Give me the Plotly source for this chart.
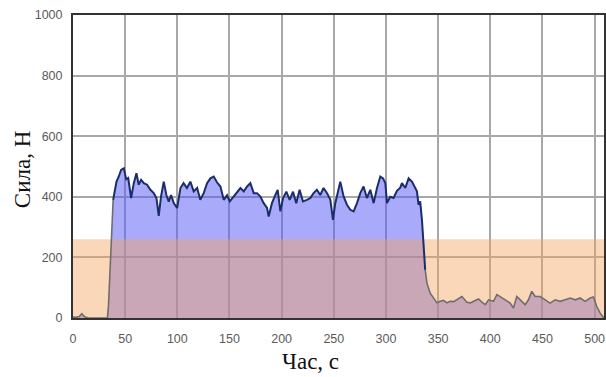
import plotly.graph_objects as go

# ---- data ----
time_s = [0, 3, 6, 8.5, 11, 14, 20, 27, 33, 34, 35.5, 37, 38.5, 41.7, 43.9, 46.1, 48.7, 51, 52.9, 55.7,
          58.3, 60.8, 63, 65.3, 67.9, 71, 74.2, 77.4, 80, 82.2, 84.4, 87, 89.5, 91.8, 94, 96.6, 99.8,
          103, 106, 109.2, 112.5, 115.7, 119, 122, 125.3, 128.5, 131.7, 134.9, 138, 141.3, 144.5,
          147.7, 150.3, 154.2, 157.3, 160.5, 163.7, 166.9, 170, 173.2, 176.4, 179.6, 182.8, 186,
          187.6, 190.7, 194, 196.2, 198.8, 201.4, 204.5, 207.7, 210.9, 214, 217.2, 220.4, 224.3,
          227.5, 230.6, 233.8, 237, 240.2, 243.5, 246.7, 249.2, 251.4, 254, 256.2, 259.4, 262.6,
          265.8, 269, 272.2, 275.4, 278.5, 281.7, 285, 288.2, 291.4, 294.6, 297.2, 299.4, 301, 304,
          307.3, 310.5, 313.7, 315.3, 318.5, 321.7, 324.9, 328, 329.7, 331.2, 332.8, 334.5, 336,
          337.6, 339.3, 342.4, 345.6, 348.8, 352, 355.2, 358.4, 361.6, 364.8, 368, 372.8, 377.6,
          381, 384, 388.8, 392, 395.2, 398.3, 403.1, 406.3, 409.5, 414.3, 419, 422.2, 425.4, 428.6,
          433.4, 436.6, 439.8, 443, 447.8, 452.6, 457.4, 462.2, 467, 471.8, 476.6, 481.4, 486.1,
          490.9, 495.7, 498.9, 502.1, 505.3, 509]
force_n = [3, 2, 5, 14, 4, 1, 0, 0, 0, 40, 170, 320, 390, 450, 467, 489, 494, 458, 462, 396,
           445, 478, 440, 456, 445, 440, 423, 412, 396, 337, 401, 450, 406, 384, 406, 379, 363,
           429, 445, 429, 450, 418, 429, 390, 412, 445, 461, 467, 448, 434, 390,
           405, 385, 401, 412, 429, 418, 434, 445, 412, 412, 401, 379, 363,
           335, 379, 406, 423, 352, 396, 417, 390, 417, 379, 423, 385, 390,
           396, 412, 423, 406, 429, 412, 390, 324, 379, 417, 450, 401, 374,
           357, 352, 379, 412, 434, 396, 423, 379, 429, 467, 461, 445, 379, 400,
           396, 420, 430, 445, 429, 461, 450, 429, 418, 374, 385, 324, 250,
           159, 115, 82, 65, 50, 55, 58, 50, 55, 54, 60, 71, 52,
           50, 55, 63, 52, 44, 60, 55, 77, 71, 60, 49, 33, 71, 60,
           44, 60, 88, 71, 71, 60, 49, 60, 55, 60, 66, 60, 66,
           55, 66, 69, 38, 16, 0]

load_start_s = 38.5    # navy line begins
load_end_s = 338       # navy line ends
threshold_n = 260      # orange band top
x_max = 509
y_ticks = [0, 200, 400, 600, 800, 1000]
x_ticks = [0, 50, 100, 150, 200, 250, 300, 350, 400, 450, 500]

navy_idx = [i for i, t in enumerate(time_s) if load_start_s <= t <= load_end_s]
i0, i1 = navy_idx[0], navy_idx[-1]

fig = go.Figure()
# blue fill
fig.add_trace(go.Scatter(x=time_s, y=force_n, mode="lines", line=dict(width=0),
                         fill="tozeroy", fillcolor="rgba(85,85,245,0.5)", hoverinfo="skip",
                         showlegend=False))
# orange band (drawn above the fill)
fig.add_trace(go.Scatter(x=[0, x_max, x_max, 0], y=[0, 0, threshold_n, threshold_n],
                         mode="lines", line=dict(width=0), fill="toself",
                         fillcolor="rgba(243,164,96,0.44)", hoverinfo="skip", showlegend=False))
# gray segments
fig.add_trace(go.Scatter(x=time_s[:i0 + 1], y=force_n[:i0 + 1], mode="lines",
                         line=dict(color="#6e6e6e", width=1.6), showlegend=False))
fig.add_trace(go.Scatter(x=time_s[i1:], y=force_n[i1:], mode="lines",
                         line=dict(color="#6e6e6e", width=1.6), showlegend=False))
# navy segment
fig.add_trace(go.Scatter(x=time_s[i0:i1 + 1], y=force_n[i0:i1 + 1], mode="lines",
                         line=dict(color="#1b2d6b", width=2), showlegend=False))

tick_font = dict(family="Liberation Sans, Arial", size=12.5, color="#5a5a5a")
fig.update_xaxes(range=[0, x_max], tickvals=x_ticks, showgrid=True, gridcolor="#a8a8a8",
                 gridwidth=1.5, showline=True, linecolor="#333333", linewidth=2, mirror=True,
                 zeroline=False, tickfont=tick_font, ticks="", ticklabelstandoff=8,
                 automargin=False)
fig.update_yaxes(range=[0, 1000], tickvals=y_ticks, showgrid=True, gridcolor="#a8a8a8",
                 gridwidth=1.5, showline=True, linecolor="#333333", linewidth=2, mirror=True,
                 zeroline=False, tickfont=tick_font, ticks="", ticklabelstandoff=6,
                 automargin=False)

title_font = dict(family="Liberation Serif, Times New Roman", size=23, color="#111111")
fig.add_annotation(text="Час, с", xref="paper", yref="paper", x=0.448, y=-0.145,
                   xanchor="center", yanchor="middle", showarrow=False, font=title_font)
fig.add_annotation(text="Сила, Н", xref="paper", yref="paper", x=-0.096, y=0.488,
                   xanchor="center", yanchor="middle", textangle=-90, showarrow=False,
                   font=title_font)

fig.update_layout(width=606, height=377, margin=dict(l=73, r=2, t=15, b=59, autoexpand=False),
                  plot_bgcolor="white", paper_bgcolor="white")

fig.write_html("out.html", config={"displayModeBar": False},
               post_script="document.body.style.margin='0px';document.body.style.overflow='hidden';")
